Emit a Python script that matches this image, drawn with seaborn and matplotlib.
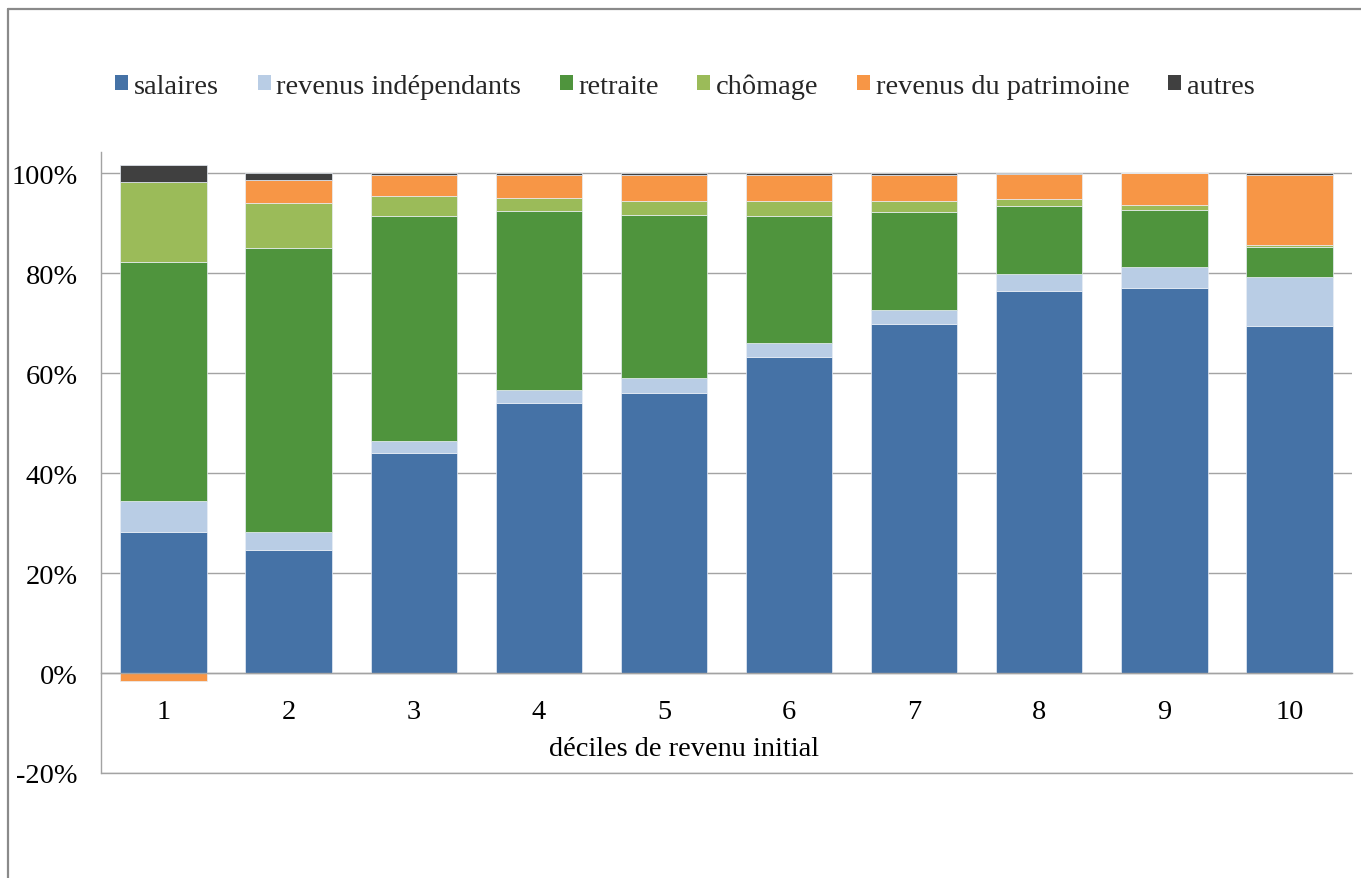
import matplotlib
matplotlib.use("Agg")
import matplotlib.pyplot as plt
from matplotlib.patches import Patch
from matplotlib.lines import Line2D
from matplotlib.ticker import FixedLocator
import seaborn as sns
import pandas as pd
import numpy as np

# Income deciles and share of each income source (%)
deciles = ["1", "2", "3", "4", "5", "6", "7", "8", "9", "10"]
salaires = [28.3, 24.7, 44.1, 54.1, 56.0, 63.2, 69.8, 76.5, 77.1, 69.5]
revenus_independants = [6.2, 3.6, 2.4, 2.5, 3.1, 2.9, 2.9, 3.3, 4.2, 9.8]
retraite = [47.8, 56.7, 44.9, 35.8, 32.5, 25.3, 19.5, 13.6, 11.3, 6.0]
chomage = [15.9, 9.1, 4.1, 2.7, 2.9, 3.1, 2.3, 1.5, 1.1, 0.4]
revenus_patrimoine = [-1.5, 4.6, 4.2, 4.6, 5.2, 5.2, 5.2, 5.0, 6.3, 14.0]
autres = [3.5, 1.3, 0.3, 0.3, 0.3, 0.3, 0.3, 0.1, 0.1, 0.3]

series_names = ["salaires", "revenus indépendants", "retraite", "chômage",
                "revenus du patrimoine", "autres"]
series_values = [salaires, revenus_independants, retraite, chomage,
                 revenus_patrimoine, autres]
series_colors = ["#4572A6", "#B9CDE5", "#4F943D", "#9BBB59", "#F79646", "#404040"]

y_ticks = [-20, 0, 20, 40, 60, 80, 100]
y_tick_labels = ["-20%", "0%", "20%", "40%", "60%", "80%", "100%"]
x_label = "déciles de revenu initial"

sns.set_style("white")
plt.rcParams["font.family"] = ["Liberation Serif", "DejaVu Serif"]
FS = 20.4
GRID = "#A3A3A3"

W, H = 1361, 879
fig = plt.figure(figsize=(W / 100, H / 100), dpi=100)
ax = fig.add_axes([101 / W, 1 - 774 / H, (1352 - 101) / W, (774 - 153) / H])

df = pd.DataFrame({"decile": deciles})
for name, vals in zip(series_names, series_values):
    df[name] = vals

# Stack positives upward from zero and negatives downward from zero
pos_base = np.zeros(len(deciles))
neg_base = np.zeros(len(deciles))
for name, color in zip(series_names, series_colors):
    v = df[name].to_numpy(dtype=float)
    bottom = np.where(v >= 0, pos_base, neg_base)
    sns.barplot(data=df, x="decile", y=name, order=deciles, color=color,
                saturation=1, bottom=bottom, width=0.69,
                edgecolor="#E8EEF6", linewidth=0.5, ax=ax, zorder=3)
    pos_base = pos_base + np.where(v >= 0, v, 0)
    neg_base = neg_base + np.where(v < 0, v, 0)

ax.set_xlabel("")
ax.set_ylabel("")
ax.set_xlim(-0.5, len(deciles) - 0.5)
ax.set_ylim(-20, 104.2)

ax.set_yticks(y_ticks)
ax.set_yticklabels(y_tick_labels)
ax.yaxis.grid(True, color=GRID, linewidth=1.0, zorder=0)
ax.xaxis.grid(False)
ax.set_axisbelow(True)
ax.axhline(-20, color=GRID, linewidth=1.0, clip_on=False, zorder=1)

for side in ("top", "right"):
    ax.spines[side].set_visible(False)
ax.spines["left"].set_color(GRID)
ax.spines["left"].set_linewidth(1.0)
ax.spines["bottom"].set_position(("data", 0))
ax.spines["bottom"].set_color(GRID)
ax.spines["bottom"].set_linewidth(1.0)
ax.spines["bottom"].set_zorder(4)

# Category labels at bar centres, tick marks at category boundaries
ax.set_xticks(range(len(deciles)))
ax.set_xticklabels(deciles)
ax.xaxis.set_minor_locator(FixedLocator(np.arange(-0.5, len(deciles), 1.0)))
ax.tick_params(axis="x", which="major", length=0, pad=19, labelsize=FS,
               labelcolor="black")
ax.tick_params(axis="x", which="minor", length=5.8, width=1.0, color=GRID,
               direction="out")
ax.tick_params(axis="y", which="major", length=5.8, width=1.0, color=GRID,
               direction="out", pad=10.8, labelsize=FS, labelcolor="black")

fig.text(684 / W, 1 - 756 / H, x_label, ha="center", va="baseline",
         fontsize=FS, color="black")

handles = [Patch(facecolor=c, edgecolor="none") for c in series_colors]
fig.legend(handles, series_names, loc="center",
           bbox_to_anchor=(685 / W, 1 - 87 / H), ncol=6, frameon=False,
           fontsize=FS, handlelength=0.46, handleheight=0.46,
           handletextpad=0.2, columnspacing=1.36, borderaxespad=0)

# Chart area border
fig.add_artist(Line2D([8 / W, 8 / W], [0, 1 - 10 / H], transform=fig.transFigure,
                      color="#8A8A8A", linewidth=1.6))
fig.add_artist(Line2D([8 / W, 1], [1 - 10 / H, 1 - 10 / H],
                      transform=fig.transFigure, color="#8A8A8A", linewidth=1.6))

fig.savefig("out.png", dpi=100)
